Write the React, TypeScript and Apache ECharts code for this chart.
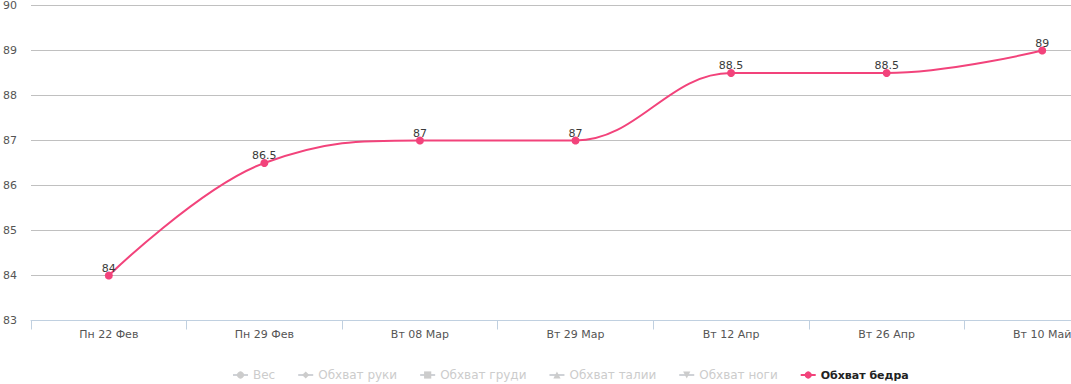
import React, { useEffect, useRef } from "react";
import * as echarts from "echarts";

const categories = ["Пн 22 Фев", "Пн 29 Фев", "Вт 08 Мар", "Вт 29 Мар", "Вт 12 Апр", "Вт 26 Апр", "Вт 10 Май"];
const hipValues = [84, 86.5, 87, 87, 88.5, 88.5, 89];
const legendNames = ["Вес", "Обхват руки", "Обхват груди", "Обхват талии", "Обхват ноги", "Обхват бедра"];
const legendSymbols = ["circle", "diamond", "rect", "triangle", "path://M0,0L10,0L5,10Z", "circle"];
const yTicks = { min: 83, max: 90, interval: 1 };

const LINE_COLOR = "#f2437b";

// Highcharts-like spline control points
function controlPoints(pts: number[][], i: number) {
  const p = pts[i];
  const prev = pts[i - 1];
  const next = pts[i + 1];
  if (!prev || !next) return [p, p];
  const s = 1.5;
  const d = s + 1;
  let lx = (s * p[0] + prev[0]) / d;
  let ly = (s * p[1] + prev[1]) / d;
  const rx = (s * p[0] + next[0]) / d;
  let ry = (s * p[1] + next[1]) / d;
  let corr = 0;
  if (rx !== lx) corr = ((ry - ly) * (rx - p[0])) / (rx - lx) + p[1] - ry;
  ly += corr;
  ry += corr;
  if (ly > prev[1] && ly > p[1]) { ly = Math.max(prev[1], p[1]); ry = 2 * p[1] - ly; }
  else if (ly < prev[1] && ly < p[1]) { ly = Math.min(prev[1], p[1]); ry = 2 * p[1] - ly; }
  if (ry > next[1] && ry > p[1]) { ry = Math.max(next[1], p[1]); ly = 2 * p[1] - ry; }
  else if (ry < next[1] && ry < p[1]) { ry = Math.min(next[1], p[1]); ly = 2 * p[1] - ry; }
  return [[lx, ly], [rx, ry]];
}

export default function App() {
  const ref = useRef<HTMLDivElement>(null);
  useEffect(() => {
    document.body.style.margin = "0";
    if (!ref.current) return;
    const chart = echarts.init(ref.current, undefined, { renderer: "svg" });
    const font = "'DejaVu Sans', Verdana, sans-serif";
    const selected: Record<string, boolean> = {};
    legendNames.forEach((n, i) => (selected[n] = i === legendNames.length - 1));
    const series: any[] = legendNames.slice(0, 5).map((n, i) => ({
      name: n,
      type: "line",
      data: [],
      symbol: legendSymbols[i],
      itemStyle: { color: "#999" },
      lineStyle: { color: "#999" },
    }));
    series.push({
      name: "spline",
      type: "custom",
      data: hipValues.map((v, i) => [i, v]),
      encode: { x: 0, y: 1 },
      silent: true,
      z: 2,
      renderItem: (params: any, api: any) => {
        const i = params.dataIndex;
        if (i >= hipValues.length - 1) return null;
        const pts = hipValues.map((v, j) => api.coord([j, v]));
        const a = pts[i];
        const b = pts[i + 1];
        const ca = controlPoints(pts, i)[1];
        const cb = controlPoints(pts, i + 1)[0];
        return {
          type: "bezierCurve",
          shape: { x1: a[0], y1: a[1], cpx1: ca[0], cpy1: ca[1], cpx2: cb[0], cpy2: cb[1], x2: b[0], y2: b[1] },
          style: { stroke: LINE_COLOR, lineWidth: 2, fill: null },
        };
      },
    });
    series.push({
      name: "Обхват бедра",
      type: "line",
      data: hipValues,
      symbol: "circle",
      symbolSize: 8,
      z: 3,
      itemStyle: { color: LINE_COLOR },
      lineStyle: { color: LINE_COLOR, width: 2, opacity: 0 },
      label: {
        show: true,
        position: "top",
        distance: -2,
        color: "#3a3a3a",
        fontSize: 11,
        fontFamily: font,
      },
    });
    chart.setOption({
      animation: false,
      grid: { left: 28, right: 6, top: 2.5, height: 318, containLabel: false },
      legend: {
        left: 227,
        top: 364,
        data: legendNames.map((n, i) =>
          i === legendNames.length - 1
            ? {
                name: n,
                lineStyle: { color: LINE_COLOR, width: 2, opacity: 1 },
                textStyle: { fontWeight: "bold", color: "#222", fontSize: 11 },
              }
            : { name: n }
        ),
        itemGap: 22,
        itemWidth: 15,
        itemHeight: 9,
        selected,
        inactiveColor: "#cccccc",
        textStyle: { color: "#222", fontWeight: "normal", fontSize: 12, fontFamily: font },
        selectedMode: false,
      },
      xAxis: {
        type: "category",
        data: categories,
        boundaryGap: true,
        axisLine: { lineStyle: { color: "#c0d0e0", width: 1 } },
        axisTick: { show: true, length: 9, lineStyle: { color: "#c0d0e0" } },
        axisLabel: { color: "#555", fontSize: 11, fontFamily: font, margin: 8 },
      },
      yAxis: {
        type: "value",
        min: yTicks.min,
        max: yTicks.max,
        interval: yTicks.interval,
        axisLine: { show: false },
        axisTick: { show: false },
        splitLine: { lineStyle: { color: "#c0c0c0", width: 1 } },
        axisLabel: { color: "#555", fontSize: 11, fontFamily: font, align: "left", margin: 28 },
      },
      series,
    });
    return () => chart.dispose();
  }, []);
  return (
    <div style={{ width: 1071, height: 384, overflow: "hidden" }}>
      <div ref={ref} style={{ width: 1126, height: 384 }} />
    </div>
  );
}
